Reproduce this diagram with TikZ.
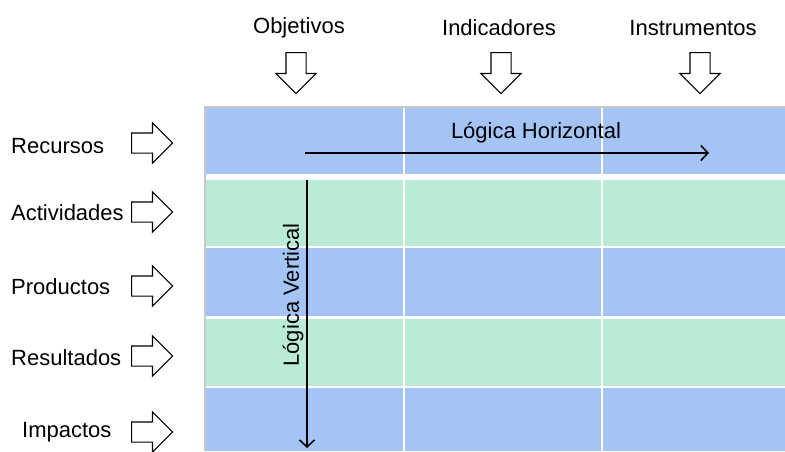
\documentclass[tikz,border=0pt]{standalone}
\usepackage{fontspec}
\setmainfont{Liberation Sans}
\usetikzlibrary{shapes.arrows,arrows.meta}
\definecolor{rowblue}{RGB}{164,196,245}
\definecolor{rowgreen}{RGB}{186,235,215}
\definecolor{gridedge}{RGB}{200,200,200}
\tikzset{
  heading/.style={font=\fontsize{22}{26}\selectfont, inner sep=0pt},
  blockarrow/.style={single arrow, draw, line width=1.1pt, inner xsep=0pt, inner ysep=9.5pt,
    minimum width=39pt, single arrow head extend=10pt, minimum height=41pt, anchor=tail},
  logic/.style={line width=1.6pt, -{Straight Barb[length=7pt,width=15pt]}},
}

\begin{document}
\begin{tikzpicture}[x=1pt,y=-1pt]
  \useasboundingbox (0,0) rectangle (785,451);
  \foreach \top/\bot/\col in {107/174/rowblue,180/246/rowgreen,248/316/rowblue,
                              319/386/rowgreen,388/451/rowblue}
    \fill[\col] (205,\top) rectangle (785,\bot);
  \draw[white, line width=2pt] (403.5,107) -- (403.5,451) (601.5,107) -- (601.5,451);
  \draw[gridedge, line width=1.5pt] (205,451) -- (205,107) -- (785,107);

  \foreach \name/\text/\x/\ax in {obj/Objetivos/299/296,ind/Indicadores/499/501,
                                  ins/Instrumentos/693/700} {
    \node[heading] (\name) at (\x,28) {\text};
    \node[blockarrow, rotate=-90] (\name arr) at (\ax,52) {};
  }

  \foreach \name/\text/\x/\y/\ay in {rec/Recursos/11/146/143,act/Actividades/11/213/212,
                                     pro/Productos/11/287/286,res/Resultados/11/358/356,
                                     imp/Impactos/22/432/432} {
    \node[heading, anchor=west] (\name) at (\x,\y) {\text};
    \node[blockarrow] (\name arr) at (131,\ay) {};
  }

  \coordinate (hstart) at (305,153);
  \coordinate (hend) at (709,153);
  \coordinate (vstart) at (307,180);
  \coordinate (vend) at (307,448);
  \node[heading] (hlogic) at (536,133) {Lógica Horizontal};
  \node[heading, rotate=90] (vlogic) at (293,295) {Lógica Vertical};
  \draw[logic] (hstart) -- (hend);
  \draw[logic] (vstart) -- (vend);
\end{tikzpicture}
\end{document}
